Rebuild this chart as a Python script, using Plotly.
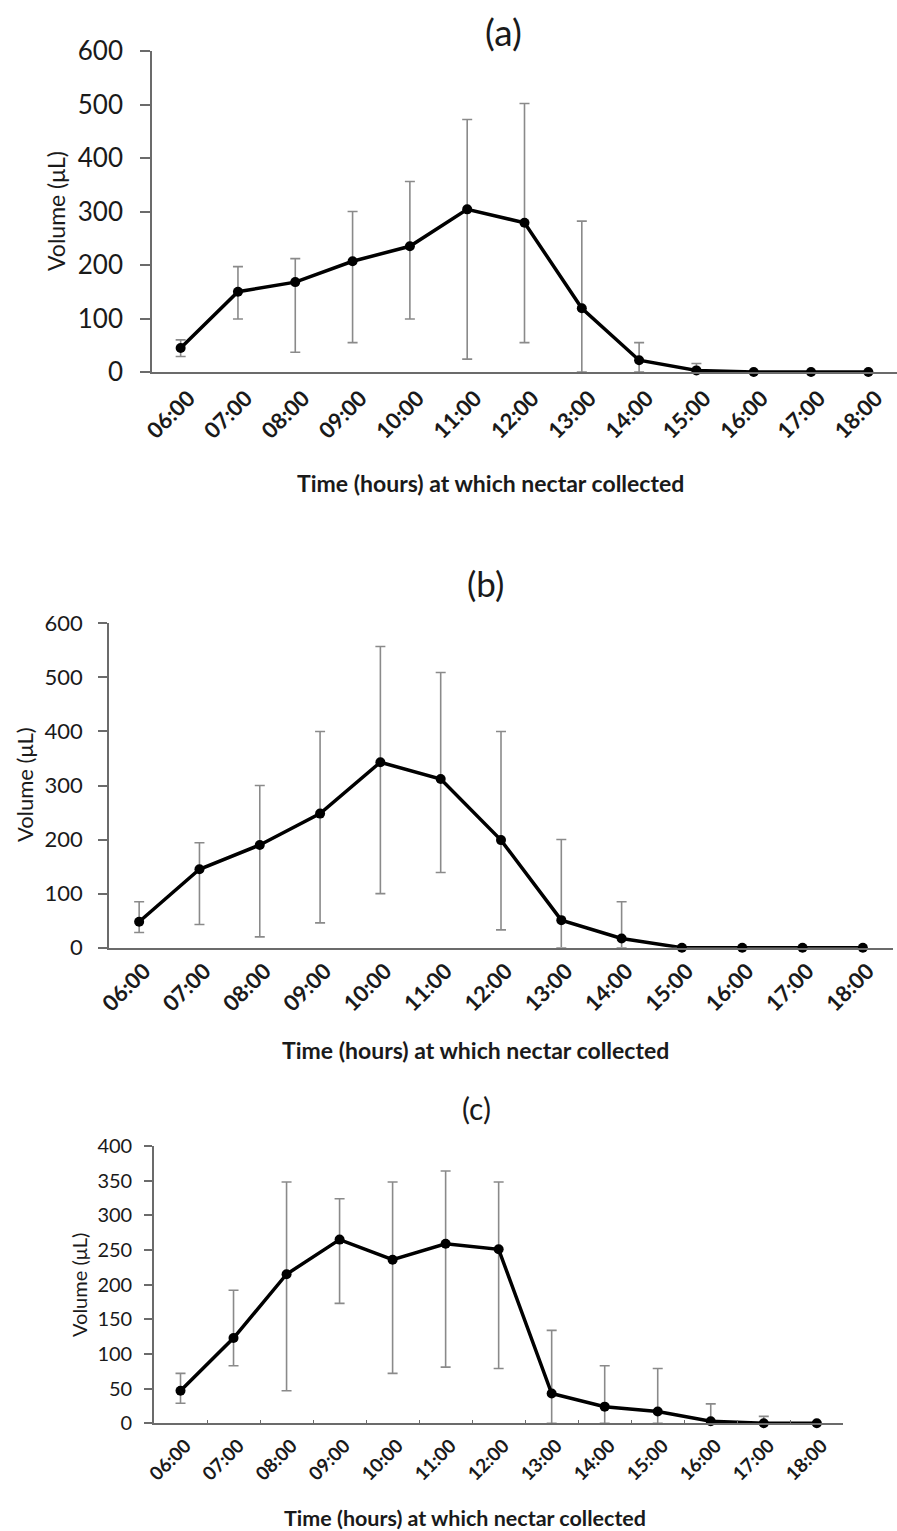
import plotly.graph_objects as go

W, H = 897, 1531

# ---------------- data ----------------
hours = ["06:00", "07:00", "08:00", "09:00", "10:00", "11:00", "12:00",
         "13:00", "14:00", "15:00", "16:00", "17:00", "18:00"]

# panel (a)
a_mean = [45, 150, 168, 207, 235, 304, 279, 119, 22, 3, 0, 0, 0]
a_upper = [60, 197, 212, 300, 356, 472, 502, 282, 55, 16, 0, 0, 0]
a_lower = [29, 99, 37, 55, 99, 24, 55, 0, 0, 0, 0, 0, 0]

# panel (b)
b_mean = [48, 145, 190, 248, 343, 312, 199, 51, 17, 0, 0, 0, 0]
b_upper = [85, 194, 300, 400, 557, 509, 400, 200, 85, 0, 0, 0, 0]
b_lower = [28, 43, 20, 46, 100, 139, 33, 0, 0, 0, 0, 0, 0]

# panel (c)
c_mean = [47, 123, 215, 265, 236, 259, 251, 43, 24, 17, 3, 0, 0]
c_upper = [72, 192, 348, 324, 348, 364, 348, 134, 83, 79, 28, 10, 0]
c_lower = [29, 83, 47, 173, 72, 81, 79, 0, 0, 0, 0, 0, 0]

panel_titles = ["(a)", "(b)", "(c)"]
y_title = "Volume (μL)"
x_title = "Time (hours) at which nectar collected"
y_ticks_ab = [0, 100, 200, 300, 400, 500, 600]
y_ticks_c = [0, 50, 100, 150, 200, 250, 300, 350, 400]


def px(x):
    return x / W


def py(y):
    return 1 - y / H


FONT = "Lato"
TXT = "#1a1a1a"
AXC = "#6b6b6b"
ERRC = "#8a8a8a"

fig = go.Figure()

panels = [
    dict(mean=a_mean, up=a_upper, lo=a_lower, xd=[px(152), px(897)], yd=[py(372), py(51)],
         yr=[0, 600], yt=y_ticks_ab, ytf=26, ytlen=10, ystand=12, xtf=22, xstand=3, xshift=8,
         title_xy=(503, 31), title_fs=37, ylab_xy=(56, 211), ylab_fs=23,
         xlab_xy=(490, 483), xlab_fs=23, xticks=""),
    dict(mean=b_mean, up=b_upper, lo=b_lower, xd=[px(109), px(893)], yd=[py(947.7), py(623.3)],
         yr=[0, 600], yt=y_ticks_ab, ytf=22, ytlen=9, ystand=11, xtf=22, xstand=0, xshift=5,
         title_xy=(485, 583), title_fs=35, ylab_xy=(24, 785), ylab_fs=22,
         xlab_xy=(475, 1050), xlab_fs=23, xticks=""),
    dict(mean=c_mean, up=c_upper, lo=c_lower, xd=[px(154), px(843.3)], yd=[py(1423.3), py(1146)],
         yr=[0, 400], yt=y_ticks_c, ytf=20, ytlen=8, ystand=8, xtf=19, xstand=2, xshift=5,
         title_xy=(476, 1108), title_fs=30, ylab_xy=(79, 1285), ylab_fs=20,
         xlab_xy=(465, 1518), xlab_fs=21.5, xticks="inside"),
]

annotations = []
for i, p in enumerate(panels):
    n = "" if i == 0 else str(i + 1)
    xa, ya = "x" + n, "y" + n
    plus = [u - m for u, m in zip(p["up"], p["mean"])]
    minus = [m - l for m, l in zip(p["mean"], p["lo"])]
    # error bars (drawn underneath)
    fig.add_trace(go.Scatter(
        x=hours, y=p["mean"], mode="lines", line=dict(width=0, color="rgba(0,0,0,0)"),
        error_y=dict(type="data", symmetric=False, array=plus, arrayminus=minus,
                     color=ERRC, thickness=1.6, width=5),
        xaxis=xa, yaxis=ya, showlegend=False, hoverinfo="skip"))
    # main line
    fig.add_trace(go.Scatter(
        x=hours, y=p["mean"], mode="lines+markers",
        line=dict(color="black", width=3.5),
        marker=dict(color="black", size=10),
        xaxis=xa, yaxis=ya, showlegend=False, cliponaxis=False))

    fig.layout["xaxis" + n] = dict(
        domain=p["xd"], anchor=ya, type="category", range=[-0.5, 12.5],
        categoryorder="array", categoryarray=hours, automargin=False,
        showline=True, linecolor=AXC, linewidth=1.6, showgrid=False, zeroline=False,
        ticks=p["xticks"], tickson="boundaries", ticklen=4, tickcolor=AXC, tickwidth=1,
        tickangle=-45, ticklabelstandoff=p["xstand"], ticklabelshift=p["xshift"],
        tickfont=dict(family=FONT, size=p["xtf"], color=TXT, weight="bold"),
        fixedrange=True)
    fig.layout["yaxis" + n] = dict(
        domain=p["yd"], anchor=xa, range=p["yr"], tickvals=p["yt"], automargin=False,
        showline=True, linecolor=AXC, linewidth=1.6, showgrid=False, zeroline=False,
        ticks="outside", ticklen=p["ytlen"], tickcolor=AXC, tickwidth=1.6,
        ticklabelstandoff=p["ystand"],
        tickfont=dict(family=FONT, size=p["ytf"], color=TXT),
        fixedrange=True)

    tx, ty = p["title_xy"]
    annotations.append(dict(text=panel_titles[i], x=px(tx), y=py(ty), xref="paper", yref="paper",
                            xanchor="center", yanchor="middle", showarrow=False,
                            font=dict(family=FONT, size=p["title_fs"], color=TXT)))
    lx, ly = p["ylab_xy"]
    annotations.append(dict(text=y_title, x=px(lx), y=py(ly), xref="paper", yref="paper",
                            xanchor="center", yanchor="middle", showarrow=False, textangle=-90,
                            font=dict(family=FONT, size=p["ylab_fs"], color=TXT)))
    bx, by = p["xlab_xy"]
    annotations.append(dict(text=x_title, x=px(bx), y=py(by), xref="paper", yref="paper",
                            xanchor="center", yanchor="middle", showarrow=False,
                            font=dict(family=FONT, size=p["xlab_fs"], color=TXT, weight="bold")))

fig.update_layout(
    template="none",
    width=W, height=H, margin=dict(l=0, r=0, t=0, b=0, pad=0, autoexpand=False),
    paper_bgcolor="white", plot_bgcolor="white",
    annotations=annotations, showlegend=False,
    font=dict(family=FONT, color=TXT),
)

fig.write_html("out.html", config={"displayModeBar": False})
